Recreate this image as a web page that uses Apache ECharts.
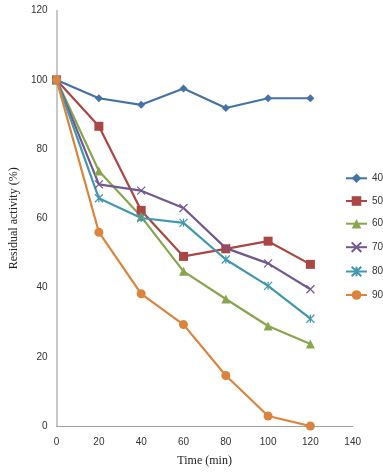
<!DOCTYPE html>
<html><head><meta charset="utf-8">
<script src="https://cdn.jsdelivr.net/npm/echarts@6/dist/echarts.min.js"></script>
<style>html,body{margin:0;padding:0;background:#fff}#c{width:383px;height:472px}</style>
</head><body><div id="c"></div>
<script>
var times = [0, 20, 40, 60, 80, 100, 120];
var seriesNames = ['40', '50', '60', '70', '80', '90'];
var s40 = [100, 94.7, 92.8, 97.5, 91.9, 94.7, 94.7];
var s50 = [100, 86.6, 62.3, 49.0, 51.2, 53.4, 46.7];
var s60 = [100, 73.7, 60.5, 44.7, 36.7, 28.9, 23.7];
var s70 = [100, 69.8, 68.0, 63.0, 51.4, 47.0, 39.5];
var s80 = [100, 65.8, 60.1, 58.7, 48.1, 40.5, 31.0];
var s90 = [100, 56.0, 38.2, 29.3, 14.6, 2.9, 0];
var xTicks = [0, 140, 20];
var yTicks = [0, 120, 20];

var values = [s40, s50, s60, s70, s80, s90];
var colors = ['#4572A7', '#AA4643', '#89A54E', '#71588F', '#4198AF', '#DB843D'];
var xPath = 'path://M0,0L10,10M10,0L0,10';
var starPath = 'path://M0,0L10,10M10,0L0,10M5,0L5,10';
var symbols = ['diamond', 'rect', 'triangle', xPath, starPath, 'circle'];
var sizes = [8, 9, 9, 8, 8, 9];

var series = seriesNames.map(function (n, i) {
  var isPath = symbols[i].indexOf('path://') === 0;
  return {
    name: n, type: 'line',
    data: times.map(function (t, j) { return [t, values[i][j]]; }),
    symbol: symbols[i], symbolSize: sizes[i],
    showSymbol: true,
    lineStyle: { color: colors[i], width: 2.2 },
    itemStyle: isPath ? { color: 'rgba(0,0,0,0)', borderColor: colors[i], borderWidth: 1.2 } : { color: colors[i], borderWidth: 0 },
    emphasis: { disabled: true },
    animation: false
  };
});

var chart = echarts.init(document.getElementById('c'), null, { renderer: 'canvas' });
chart.setOption({
  backgroundColor: '#fff',
  animation: false,
  grid: { left: 52.5, right: 30.3, top: 10.7, bottom: 44.7, containLabel: false },
  legend: {
    orient: 'vertical', left: 345, top: 173.3, padding: 0,
    itemWidth: 21, itemHeight: 12, itemGap: 12.7,
    textStyle: { fontFamily: 'Liberation Sans, Arial', fontSize: 10, color: '#333' },
    data: seriesNames
  },
  xAxis: {
    type: 'value', min: xTicks[0], max: xTicks[1], interval: xTicks[2],
    name: 'Time (min)', nameLocation: 'middle', nameGap: 29,
    nameTextStyle: { fontFamily: 'Liberation Serif, Times New Roman', fontSize: 12, color: '#222' },
    axisLine: { lineStyle: { color: '#a0a0a0', width: 1 } },
    axisTick: { show: false },
    splitLine: { show: false },
    axisLabel: { fontFamily: 'Liberation Sans, Arial', fontSize: 10, color: '#333', margin: 11 }
  },
  yAxis: {
    type: 'value', min: yTicks[0], max: yTicks[1], interval: yTicks[2],
    name: 'Residual activity (%)', nameLocation: 'middle', nameGap: 32,
    nameTextStyle: { fontFamily: 'Liberation Serif, Times New Roman', fontSize: 12, color: '#222' },
    axisLine: { show: true, lineStyle: { color: '#c8c8c8', width: 2 } },
    axisTick: { show: false },
    splitLine: { show: false },
    axisLabel: { fontFamily: 'Liberation Sans, Arial', fontSize: 10, color: '#333', margin: 9 }
  },
  series: series
});
</script></body></html>
